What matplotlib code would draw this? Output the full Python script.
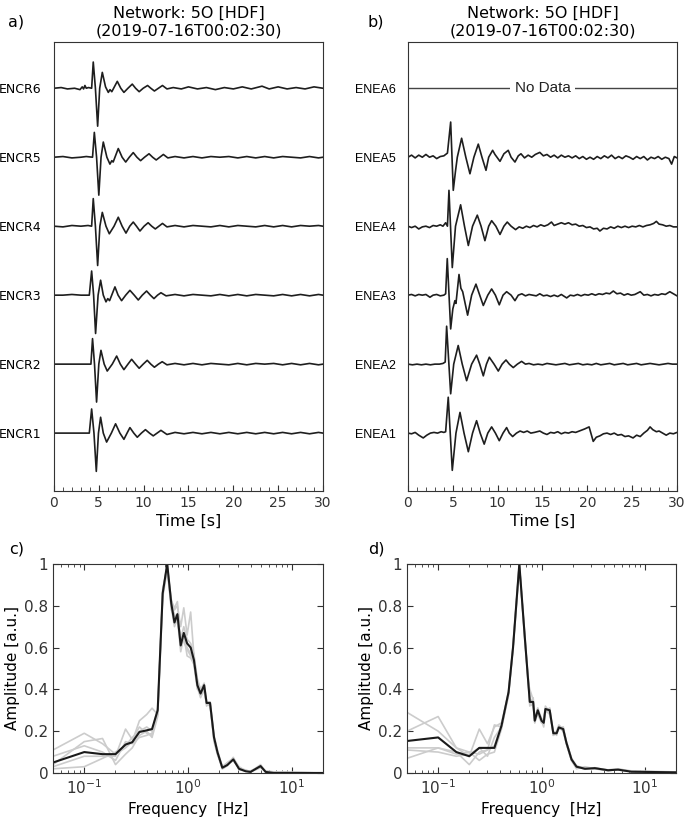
import matplotlib
matplotlib.use("Agg")
import matplotlib.pyplot as plt
from matplotlib.ticker import MultipleLocator, LogLocator, NullFormatter

# Seismograms, (time [s], normalised amplitude)
encr6 = [(0, 0), (0.8, 0.01), (1.5, -0.01), (2.3, 0.0), (2.9, -0.02), (3.15, 0.02),
         (3.3, -0.01), (3.45, 0.04), (3.6, 0.0), (3.85, 0.01), (4.2, 0.0), (4.38, 0.38),
         (4.62, 0.0), (4.87, -0.55), (5.1, 0.0), (5.39, 0.23), (5.75, 0.02), (6.06, -0.06),
         (6.25, -0.02), (6.45, -0.05), (7.06, 0.10), (7.45, 0.0), (7.8, -0.06), (8.25, 0.0),
         (8.73, 0.06), (9.1, 0.0), (9.5, -0.05), (9.95, 0.0), (10.44, 0.04), (10.8, 0.0),
         (11.2, -0.04), (11.65, 0.0), (12.1, 0.04), (12.6, -0.01), (13.3, 0.01), (14.2, -0.01),
         (15.0, 0.02), (16.0, -0.01), (17.0, 0.01), (18.0, -0.02), (19.0, 0.01), (20.0, -0.01),
         (21.0, 0.02), (22.0, -0.01), (23.2, 0.03), (24.0, -0.01), (25.0, 0.02), (26.0, -0.01),
         (27.0, 0.01), (28.0, -0.01), (29.0, 0.02), (30.0, 0.0)]
encr5 = [(0, 0), (1, 0.01), (2, -0.01), (3, 0.0), (3.6, 0.01), (4.3, 0.0), (4.5, 0.36),
         (4.75, 0.0), (5.0, -0.55), (5.25, 0.0), (5.5, 0.22), (5.9, 0.0), (6.24, -0.1),
         (6.45, -0.05), (6.6, -0.07), (7.17, 0.126), (7.6, 0.0), (8.0, -0.07), (8.4, 0.0),
         (8.84, 0.067), (9.25, 0.0), (9.66, -0.05), (10.1, 0.0), (10.6, 0.05), (11.0, 0.0),
         (11.4, -0.04), (11.8, 0.0), (12.2, 0.04), (12.7, -0.01), (13.5, 0.01), (14.5, -0.01),
         (15.5, 0.01), (16.5, -0.01), (17.5, 0.01), (18.5, 0.0), (19.5, 0.01), (20.5, -0.01),
         (21.5, 0.01), (22.5, -0.01), (23.5, 0.01), (24.5, -0.01), (25.5, 0.01), (26.5, 0.0),
         (27.5, -0.01), (28.5, 0.01), (29.5, -0.01), (30, 0.0)]
encr4 = [(0, 0), (1, -0.01), (2, 0.01), (3, 0.0), (3.8, 0.01), (4.2, 0.0), (4.38, 0.40),
         (4.62, 0.0), (4.87, -0.57), (5.12, 0.0), (5.39, 0.2), (5.8, 0.0), (6.17, -0.11),
         (6.7, 0.0), (7.17, 0.13), (7.6, 0.0), (8.03, -0.1), (8.45, 0.0), (8.84, 0.06),
         (9.2, 0.0), (9.59, -0.07), (10.05, 0.0), (10.5, 0.05), (10.9, 0.0), (11.3, -0.04),
         (11.7, 0.0), (12.1, 0.04), (12.6, -0.01), (13.5, 0.01), (14.5, -0.01), (15.5, 0.01),
         (16.5, 0.0), (17.5, -0.01), (18.5, 0.01), (19.5, -0.01), (20.5, 0.01), (21.5, 0.0),
         (22.5, -0.01), (23.5, 0.01), (24.5, -0.01), (25.5, 0.01), (26.5, -0.01), (27.5, 0.01),
         (28.5, 0.0), (29.5, 0.01), (30, 0.0)]
encr3 = [(0, 0), (1, 0.0), (2, 0.01), (3, 0.0), (3.94, 0.0), (4.2, 0.35), (4.42, 0.0),
         (4.64, -0.556), (4.92, 0.0), (5.2, 0.217), (5.5, 0.0), (5.8, -0.097), (6.0, -0.05),
         (6.2, -0.08), (6.8, 0.12), (7.15, 0.0), (7.54, -0.08), (8.0, 0.0), (8.47, 0.07),
         (8.95, 0.0), (9.4, -0.07), (9.85, 0.0), (10.33, 0.06), (10.75, 0.0), (11.15, -0.05),
         (11.55, 0.0), (11.93, 0.035), (12.5, -0.01), (13.5, 0.01), (14.5, -0.01), (15.5, 0.01),
         (16.5, 0.0), (17.5, -0.01), (18.5, 0.01), (19.5, -0.01), (20.5, 0.01), (21.5, -0.01),
         (22.5, 0.01), (23.5, 0.0), (24.5, -0.01), (25.5, 0.01), (26.5, -0.01), (27.5, 0.01),
         (28.5, -0.01), (29.5, 0.01), (30, 0.0)]
encr2 = [(0, 0), (1, 0.0), (2, 0.0), (3, 0.0), (4.12, 0.0), (4.3, 0.37), (4.52, 0.0),
         (4.75, -0.55), (5.0, 0.0), (5.24, 0.2), (5.6, 0.0), (5.94, -0.1), (6.5, 0.0),
         (6.99, 0.117), (7.4, 0.0), (7.8, -0.08), (8.25, 0.0), (8.66, 0.07), (9.1, 0.0),
         (9.5, -0.06), (9.95, 0.0), (10.4, 0.055), (10.8, 0.0), (11.2, -0.045), (11.65, 0.0),
         (12.07, 0.035), (12.6, -0.01), (13.5, 0.01), (14.5, -0.01), (15.5, 0.01), (16.5, -0.01),
         (17.5, 0.01), (18.5, 0.0), (19.5, -0.01), (20.5, 0.01), (21.5, -0.01), (22.5, 0.01),
         (23.5, 0.0), (24.5, 0.01), (25.5, -0.01), (26.5, 0.01), (27.5, -0.01), (28.5, 0.01),
         (29.5, -0.01), (30, 0.0)]
encr1 = [(0, 0), (1, 0.0), (2, 0.0), (3, 0.0), (3.94, 0.0), (4.2, 0.35), (4.46, 0.0),
         (4.72, -0.555), (4.96, 0.0), (5.2, 0.23), (5.5, 0.0), (5.87, -0.13), (6.4, 0.0),
         (6.87, 0.135), (7.35, 0.0), (7.8, -0.09), (8.15, 0.0), (8.47, 0.08), (8.9, 0.0),
         (9.29, -0.06), (9.75, 0.0), (10.2, 0.05), (10.65, 0.0), (11.07, -0.04), (11.5, 0.0),
         (11.93, 0.04), (12.6, -0.02), (13.5, 0.01), (14.5, -0.01), (15.5, 0.01), (16.5, -0.01),
         (17.5, 0.01), (18.5, -0.01), (19.5, 0.01), (20.5, -0.01), (21.5, 0.01), (22.5, -0.01),
         (23.5, 0.01), (24.5, -0.01), (25.5, 0.01), (26.5, -0.01), (27.5, 0.01), (28.5, -0.01),
         (29.5, 0.01), (30, 0.0)]

enea5 = [(0, 0.0), (0.4, 0.03), (0.8, -0.01), (1.2, 0.03), (1.6, 0.0), (2.0, 0.04), (2.4, 0.0),
         (2.8, 0.02), (3.2, -0.02), (3.6, 0.01), (4.0, 0.02), (4.4, 0.06), (4.76, 0.51),
         (5.05, -0.48), (5.3, -0.2), (5.5, 0.0), (5.98, 0.275), (6.45, 0.0), (6.91, -0.24),
         (7.35, 0.0), (7.84, 0.19), (8.25, 0.0), (8.7, -0.19), (9.0, 0.0), (9.44, 0.10),
         (9.7, 0.04), (10.26, -0.06), (10.7, 0.05), (11.18, 0.10), (11.5, 0.0), (11.93, -0.07),
         (12.3, 0.02), (12.6, 0.05), (13.0, -0.01), (13.4, 0.03), (13.8, 0.0), (14.2, 0.04),
         (14.7, 0.07), (15.1, 0.02), (15.5, 0.04), (15.9, 0.0), (16.3, 0.03), (16.7, -0.01),
         (17.1, 0.03), (17.5, 0.0), (17.9, 0.02), (18.3, -0.01), (18.7, 0.02), (19.1, -0.02),
         (19.5, 0.01), (19.9, -0.03), (20.3, 0.0), (20.7, -0.03), (21.1, 0.01), (21.5, -0.02),
         (21.9, 0.02), (22.3, -0.01), (22.7, 0.03), (23.1, -0.02), (23.5, 0.01), (23.9, -0.02),
         (24.3, 0.02), (24.7, 0.0), (25.1, -0.03), (25.5, 0.01), (25.9, -0.02), (26.3, 0.01),
         (26.7, -0.04), (27.1, 0.0), (27.5, -0.02), (27.9, 0.01), (28.3, -0.03), (28.7, 0.0),
         (29.1, -0.02), (29.4, -0.1), (29.7, 0.01), (30, -0.01)]
enea4 = [(0, 0.0), (0.4, -0.02), (0.8, 0.0), (1.2, -0.04), (1.6, -0.01), (2.0, 0.0), (2.4, -0.02),
         (2.8, 0.01), (3.2, 0.0), (3.6, 0.02), (3.9, 0.0), (4.2, 0.05), (4.4, 0.0), (4.57, 0.52),
         (4.94, -0.6), (5.3, 0.0), (5.87, 0.31), (6.3, 0.0), (6.73, -0.28), (7.2, 0.0),
         (7.73, 0.16), (8.15, 0.0), (8.58, -0.21), (9.0, 0.0), (9.33, 0.08), (9.8, 0.0),
         (10.26, -0.12), (10.7, 0.0), (11.07, 0.06), (11.5, 0.0), (12.0, -0.05), (12.4, -0.01),
         (12.8, -0.03), (13.2, 0.0), (13.6, -0.02), (14.0, 0.01), (14.4, -0.01), (14.8, 0.02),
         (15.2, 0.0), (15.6, 0.02), (16.0, 0.06), (16.3, 0.01), (16.7, 0.03), (17.1, 0.05),
         (17.5, 0.03), (17.9, 0.05), (18.3, 0.02), (18.7, 0.03), (19.1, 0.0), (19.5, 0.01),
         (19.9, -0.02), (20.3, -0.01), (20.7, -0.04), (21.1, -0.03), (21.4, -0.07), (21.8, -0.03),
         (22.2, -0.04), (22.6, -0.01), (23.0, -0.03), (23.4, 0.0), (23.8, -0.02), (24.2, 0.0),
         (24.6, -0.02), (25.0, 0.0), (25.4, -0.01), (25.8, 0.01), (26.2, -0.01), (26.6, 0.01),
         (27.0, 0.02), (27.4, 0.04), (27.7, 0.07), (28.0, 0.03), (28.4, 0.02), (28.8, 0.0),
         (29.2, 0.01), (29.6, -0.01), (30, -0.01)]
enea3 = [(0, 0.0), (0.4, 0.01), (0.8, -0.01), (1.2, 0.01), (1.6, 0.0), (2.0, 0.01), (2.45, -0.03),
         (2.8, 0.0), (3.2, 0.01), (3.6, -0.01), (4.0, 0.0), (4.2, 0.02), (4.38, 0.53),
         (4.76, -0.49), (5.0, -0.2), (5.23, -0.08), (5.35, -0.12), (5.69, 0.30), (5.9, 0.1),
         (6.1, 0.05), (6.65, -0.29), (7.1, 0.0), (7.58, 0.16), (8.0, 0.0), (8.4, -0.15),
         (8.9, 0.0), (9.33, 0.09), (9.75, 0.0), (10.18, -0.14), (10.6, 0.0), (11.0, 0.05),
         (11.5, 0.0), (11.93, -0.08), (12.3, 0.0), (12.7, 0.02), (13.1, -0.01), (13.5, 0.01),
         (13.9, 0.0), (14.3, -0.01), (14.7, 0.02), (15.1, -0.01), (15.5, 0.0), (15.9, -0.02),
         (16.3, 0.0), (16.7, -0.02), (17.1, 0.01), (17.7, -0.04), (18.1, 0.0), (18.5, -0.01),
         (18.9, 0.01), (19.3, -0.01), (19.7, 0.01), (20.1, 0.0), (20.5, 0.02), (20.9, 0.0),
         (21.3, 0.02), (21.7, 0.01), (22.1, 0.03), (22.5, 0.02), (22.9, 0.06), (23.3, 0.02),
         (23.7, 0.03), (24.1, 0.0), (24.5, 0.02), (24.9, 0.0), (25.3, 0.01), (25.9, 0.05),
         (26.3, 0.0), (26.7, 0.01), (27.1, -0.01), (27.5, 0.01), (27.9, 0.0), (28.3, 0.02),
         (28.7, 0.01), (29.2, 0.05), (29.6, 0.02), (30, -0.01)]
enea2 = [(0, 0.0), (0.5, -0.01), (1.0, 0.0), (1.5, -0.01), (2.0, 0.0), (2.5, -0.01), (3.0, 0.0),
         (3.5, 0.0), (3.9, 0.01), (4.15, 0.03), (4.31, 0.55), (4.76, -0.43), (5.1, 0.0),
         (5.6, 0.27), (6.05, 0.0), (6.54, -0.24), (7.1, 0.0), (7.65, 0.13), (8.0, 0.0),
         (8.4, -0.17), (8.75, 0.0), (9.07, 0.10), (9.6, 0.0), (10.07, -0.10), (10.5, 0.0),
         (10.93, 0.06), (11.3, 0.0), (11.74, -0.05), (12.2, 0.0), (12.67, 0.04), (13.1, 0.0),
         (13.5, 0.01), (14.0, -0.01), (14.5, 0.0), (15.0, -0.01), (15.5, 0.01), (16.0, 0.0),
         (16.5, -0.01), (17.0, 0.0), (17.5, 0.01), (18.0, -0.01), (18.5, 0.0), (19.0, 0.01),
         (19.5, -0.01), (20.0, 0.0), (20.5, -0.01), (21.0, 0.01), (21.5, -0.01), (22.0, 0.0),
         (22.5, 0.01), (23.0, -0.01), (23.5, 0.0), (24.0, 0.01), (24.5, -0.01), (25.0, 0.0),
         (25.5, 0.01), (26.0, -0.01), (26.5, 0.0), (27.0, 0.01), (27.5, 0.0), (28.0, -0.01),
         (28.5, 0.0), (29.0, 0.01), (29.5, 0.0), (30, 0.0)]
enea1 = [(0, 0.0), (0.4, -0.01), (0.8, 0.01), (1.2, -0.03), (1.7, -0.07), (2.1, -0.03), (2.5, 0.0),
         (2.9, 0.01), (3.3, 0.0), (3.7, 0.02), (4.0, 0.01), (4.2, 0.02), (4.49, 0.52),
         (4.94, -0.54), (5.35, 0.0), (5.8, 0.30), (6.25, 0.0), (6.73, -0.27), (7.2, 0.0),
         (7.65, 0.18), (8.05, 0.0), (8.5, -0.16), (8.9, 0.0), (9.33, 0.09), (9.75, 0.0),
         (10.18, -0.11), (10.6, 0.0), (11.0, 0.08), (11.3, 0.0), (11.67, -0.05), (12.1, 0.0),
         (12.5, 0.03), (12.9, 0.01), (13.3, 0.03), (13.7, 0.0), (14.1, 0.01), (14.7, 0.03),
         (15.1, 0.0), (15.5, -0.02), (15.9, 0.01), (16.3, 0.0), (16.7, 0.02), (17.1, -0.01),
         (17.5, 0.01), (17.9, 0.0), (18.3, 0.02), (18.7, 0.01), (19.1, 0.03), (19.7, 0.06),
         (20.2, 0.09), (20.66, -0.12), (21.0, -0.06), (21.4, -0.04), (21.8, -0.01), (22.2, 0.0),
         (22.6, -0.02), (23.0, 0.0), (23.4, -0.03), (23.8, -0.02), (24.2, -0.05), (24.6, -0.04),
         (25.1, -0.07), (25.5, -0.03), (25.9, -0.05), (26.3, 0.0), (26.7, 0.04), (27.0, 0.09),
         (27.3, 0.05), (27.7, 0.02), (28.0, 0.03), (28.4, 0.0), (28.8, -0.03), (29.2, 0.0),
         (29.6, -0.01), (30, 0.01)]

stations_a = ["ENCR1", "ENCR2", "ENCR3", "ENCR4", "ENCR5", "ENCR6"]
traces_a = [encr1, encr2, encr3, encr4, encr5, encr6]
stations_b = ["ENEA1", "ENEA2", "ENEA3", "ENEA4", "ENEA5", "ENEA6"]
traces_b = [enea1, enea2, enea3, enea4, enea5, None]  # ENEA6 has no data

# Normalised amplitude spectra
freq_c = [0.05, 0.1, 0.15, 0.2, 0.25, 0.29, 0.34, 0.4, 0.45, 0.51,
          0.57, 0.63, 0.69, 0.74, 0.79, 0.85, 0.91, 0.98, 1.06, 1.14,
          1.23, 1.32, 1.43, 1.51, 1.63, 1.78, 1.92, 2.14, 2.39, 2.73,
          3.1, 3.6, 4.0, 5.0, 5.6, 6.7, 9.8, 20]
mean_c = [0.05, 0.10, 0.09, 0.09, 0.136, 0.147, 0.196, 0.204, 0.21, 0.30,
          0.86, 1.0, 0.81, 0.72, 0.76, 0.61, 0.67, 0.62, 0.60, 0.54,
          0.42, 0.38, 0.42, 0.335, 0.335, 0.17, 0.10, 0.025, 0.038, 0.065,
          0.02, 0.008, 0.005, 0.033, 0.005, 0.0, 0.0, 0.0]
gray_c = [
    [0.11, 0.19, 0.14, 0.09, 0.12, 0.15, 0.25, 0.28, 0.31, 0.28,
     0.88, 0.98, 0.83, 0.78, 0.80, 0.70, 0.79, 0.66, 0.77, 0.56,
     0.45, 0.40, 0.39, 0.33, 0.33, 0.15, 0.09, 0.03, 0.05, 0.07,
     0.03, 0.01, 0.01, 0.03, 0.01, 0.005, 0.003, 0.0],
    [0.04, 0.15, 0.165, 0.04, 0.09, 0.12, 0.18, 0.20, 0.17, 0.27,
     0.84, 0.97, 0.79, 0.70, 0.74, 0.58, 0.65, 0.60, 0.57, 0.52,
     0.41, 0.36, 0.40, 0.33, 0.32, 0.16, 0.09, 0.02, 0.035, 0.07,
     0.015, 0.01, 0.005, 0.03, 0.004, 0.002, 0.0, 0.0],
    [0.03, 0.08, 0.08, 0.08, 0.21, 0.16, 0.22, 0.19, 0.18, 0.29,
     0.87, 0.99, 0.80, 0.76, 0.73, 0.65, 0.63, 0.59, 0.56, 0.55,
     0.44, 0.40, 0.43, 0.34, 0.34, 0.18, 0.11, 0.03, 0.04, 0.06,
     0.025, 0.01, 0.008, 0.035, 0.006, 0.003, 0.002, 0.0],
    [0.02, 0.03, 0.07, 0.10, 0.13, 0.17, 0.20, 0.22, 0.20, 0.31,
     0.85, 1.0, 0.78, 0.75, 0.72, 0.64, 0.70, 0.64, 0.62, 0.57,
     0.43, 0.37, 0.41, 0.32, 0.34, 0.17, 0.10, 0.025, 0.045, 0.06,
     0.02, 0.015, 0.005, 0.025, 0.008, 0.004, 0.002, 0.0],
    [0.08, 0.13, 0.10, 0.06, 0.15, 0.14, 0.17, 0.18, 0.19, 0.28,
     0.86, 1.0, 0.82, 0.79, 0.82, 0.60, 0.66, 0.56, 0.55, 0.52,
     0.40, 0.39, 0.40, 0.33, 0.33, 0.16, 0.10, 0.02, 0.035, 0.075,
     0.02, 0.01, 0.005, 0.04, 0.005, 0.003, 0.002, 0.0],
]

freq_d = [0.05, 0.1, 0.15, 0.2, 0.25, 0.3, 0.35, 0.41, 0.48, 0.53,
          0.61, 0.69, 0.74, 0.77, 0.83, 0.86, 0.92, 1.0, 1.05, 1.09,
          1.2, 1.3, 1.4, 1.47, 1.62, 1.74, 1.95, 2.18, 2.63, 3.28,
          4.4, 5.5, 7.4, 20]
mean_d = [0.153, 0.17, 0.10, 0.08, 0.12, 0.12, 0.12, 0.226, 0.387, 0.6,
          1.0, 0.645, 0.45, 0.34, 0.34, 0.25, 0.30, 0.25, 0.24, 0.306,
          0.30, 0.19, 0.19, 0.218, 0.21, 0.145, 0.065, 0.03, 0.02, 0.023,
          0.013, 0.016, 0.006, 0.003]
gray_d = [
    [0.29, 0.20, 0.12, 0.10, 0.09, 0.11, 0.13, 0.23, 0.39, 0.60,
     1.0, 0.64, 0.47, 0.36, 0.33, 0.26, 0.31, 0.24, 0.25, 0.32,
     0.29, 0.20, 0.18, 0.22, 0.20, 0.14, 0.06, 0.03, 0.025, 0.02,
     0.015, 0.02, 0.008, 0.004],
    [0.20, 0.27, 0.12, 0.08, 0.21, 0.14, 0.22, 0.24, 0.38, 0.59,
     0.98, 0.66, 0.44, 0.40, 0.35, 0.24, 0.29, 0.26, 0.23, 0.29,
     0.31, 0.18, 0.20, 0.21, 0.22, 0.15, 0.07, 0.035, 0.02, 0.025,
     0.01, 0.018, 0.01, 0.005],
    [0.12, 0.12, 0.10, 0.04, 0.10, 0.11, 0.23, 0.22, 0.37, 0.61,
     1.0, 0.63, 0.46, 0.32, 0.36, 0.26, 0.28, 0.24, 0.25, 0.30,
     0.28, 0.20, 0.19, 0.22, 0.20, 0.14, 0.06, 0.02, 0.03, 0.02,
     0.012, 0.015, 0.006, 0.003],
    [0.07, 0.12, 0.09, 0.10, 0.06, 0.09, 0.10, 0.21, 0.38, 0.60,
     0.99, 0.65, 0.45, 0.33, 0.32, 0.25, 0.31, 0.26, 0.25, 0.31,
     0.29, 0.19, 0.20, 0.23, 0.21, 0.15, 0.07, 0.03, 0.018, 0.025,
     0.014, 0.015, 0.007, 0.003],
    [0.11, 0.10, 0.08, 0.09, 0.12, 0.08, 0.17, 0.22, 0.39, 0.60,
     1.0, 0.64, 0.44, 0.35, 0.34, 0.24, 0.29, 0.25, 0.22, 0.30,
     0.31, 0.18, 0.19, 0.21, 0.22, 0.14, 0.06, 0.025, 0.022, 0.02,
     0.012, 0.017, 0.006, 0.003],
]

title = "Network: 5O [HDF]\n(2019-07-16T00:02:30)"
spine_col = "#333333"

fig = plt.figure(figsize=(6.85, 8.21), dpi=100)
ax_a = fig.add_axes([0.0788, 0.4019, 0.3927, 0.5469])
ax_b = fig.add_axes([0.5956, 0.4019, 0.3927, 0.5469])
ax_c = fig.add_axes([0.0774, 0.0585, 0.3942, 0.2546])
ax_d = fig.add_axes([0.5942, 0.0585, 0.3927, 0.2546])


def trace_panel(ax, names, traces, label_font):
    for i, tr in enumerate(traces):
        if tr is None:
            continue
        t = [p[0] for p in tr]
        a = [p[1] + i + 1 for p in tr]
        ax.plot(t, a, color="#1e1e1e", lw=1.2, solid_joinstyle="round")
    ax.set_xlim(0, 30)
    ax.set_ylim(0.16, 6.67)
    ax.set_yticks(range(1, len(names) + 1))
    ax.set_yticklabels(names, family=label_font, fontsize=9)
    ax.tick_params(axis="y", length=0, pad=9)
    ax.xaxis.set_major_locator(MultipleLocator(5))
    ax.xaxis.set_minor_locator(MultipleLocator(1))
    ax.tick_params(axis="x", which="both", direction="in", labelsize=10, colors=spine_col)
    ax.tick_params(axis="x", which="major", length=4)
    ax.tick_params(axis="x", which="minor", length=3)
    ax.set_xlabel("Time [s]", fontsize=11.5, labelpad=3)
    ax.set_title(title, fontsize=11.5, pad=5, linespacing=1.15)
    for s in ax.spines.values():
        s.set_color(spine_col)


trace_panel(ax_a, stations_a, traces_a, "DejaVu Sans")
trace_panel(ax_b, stations_b, traces_b, "Liberation Sans")

# ENEA6: no data
ax_b.axhline(6, color="#444444", lw=1.0)
ax_b.text(15, 6, "No Data", ha="center", va="center", fontsize=11,
          family="Liberation Sans", color="#222222",
          bbox=dict(facecolor="white", edgecolor="none", pad=3))


def spectrum_panel(ax, freq, mean, grays):
    for g in grays:
        ax.plot(freq, g, color="#cccccc", lw=1.2)
    ax.plot(freq, mean, color="#1a1a1a", lw=1.5)
    ax.set_xscale("log")
    ax.set_xlim(0.05, 20)
    ax.set_ylim(0, 1)
    ax.set_yticks([0, 0.2, 0.4, 0.6, 0.8, 1])
    ax.set_yticklabels(["0", "0.2", "0.4", "0.6", "0.8", "1"])
    ax.xaxis.set_major_locator(LogLocator(base=10))
    ax.xaxis.set_minor_locator(LogLocator(base=10, subs=range(2, 10)))
    ax.xaxis.set_minor_formatter(NullFormatter())
    ax.tick_params(which="both", direction="in", top=True, right=True,
                   labelsize=11, colors=spine_col)
    ax.tick_params(which="major", length=4)
    ax.tick_params(which="minor", length=2.5)
    ax.set_xlabel("Frequency  [Hz]", fontsize=11, labelpad=4)
    ax.set_ylabel("Amplitude [a.u.]", fontsize=11, labelpad=3)
    for s in ax.spines.values():
        s.set_color(spine_col)


spectrum_panel(ax_c, freq_c, mean_c, gray_c)
spectrum_panel(ax_d, freq_d, mean_d, gray_d)

# panel letters
fig.text(0.012, 0.973, "a)", fontsize=11.5, va="center")
fig.text(0.537, 0.973, "b)", fontsize=11.5, va="center")
fig.text(0.014, 0.331, "c)", fontsize=11.5, va="center")
fig.text(0.537, 0.331, "d)", fontsize=11.5, va="center")

fig.savefig("out.png", dpi=100)
